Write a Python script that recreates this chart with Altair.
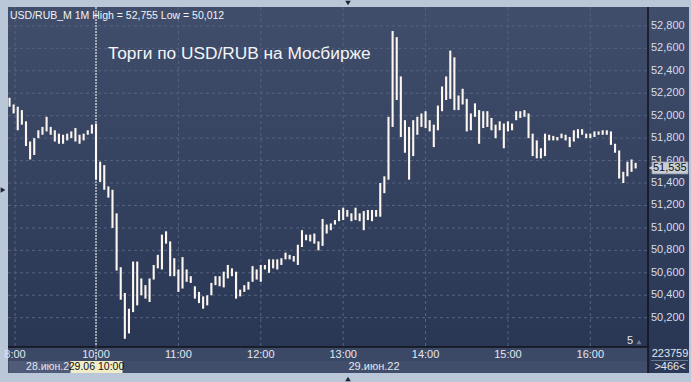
import altair as alt
import pandas as pd

# ---- data (minutes relative to 29.06 10:00, 3-minute bars) ----
t = list(range(-63, 394, 3))
hi = [52.16, 52.10, 52.08, 52.05, 51.95, 51.77, 51.80, 51.87, 51.90, 51.99,
      51.90, 51.87, 51.84, 51.83, 51.84, 51.86, 51.89, 51.83, 51.84, 51.87,
      51.92, 51.93, 51.59, 51.56, 51.37, 51.34, 51.13, 50.65, 50.42, 50.28,
      50.70, 50.70, 50.55, 50.49, 50.55, 50.67, 50.76, 50.94, 50.97, 50.88,
      50.73, 50.63, 50.74, 50.63, 50.57, 50.48, 50.43, 50.39, 50.40, 50.51,
      50.57, 50.57, 50.61, 50.67, 50.64, 50.61, 50.45, 50.49, 50.52, 50.66,
      50.63, 50.67, 50.67, 50.72, 50.72, 50.72, 50.73, 50.78, 50.76, 50.75,
      50.85, 50.98, 50.94, 50.94, 50.95, 50.88, 51.08, 51.03, 51.04, 51.07,
      51.16, 51.18, 51.16, 51.13, 51.18, 51.13, 51.15, 51.16, 51.16, 51.16,
      51.40, 51.46, 51.99, 52.755, 52.70, 52.35, 51.96, 51.90, 51.96, 51.99,
      52.02, 52.04, 51.96, 51.92, 52.09, 52.26, 52.35, 52.58, 52.52, 52.18,
      52.24, 52.15, 52.02, 52.11, 52.05, 52.04, 52.04, 51.98, 51.92, 51.95,
      51.93, 51.95, 51.93, 52.04, 52.04, 52.05, 52.02, 51.84, 51.78, 51.71,
      51.84, 51.83, 51.82, 51.81, 51.84, 51.83, 51.81, 51.87, 51.88, 51.88,
      51.84, 51.84, 51.86, 51.86, 51.87, 51.87, 51.86, 51.75, 51.69, 51.50,
      51.59, 51.61, 51.58]
lo = [52.08, 52.02, 51.87, 51.92, 51.73, 51.61, 51.65, 51.80, 51.83, 51.86,
      51.83, 51.77, 51.75, 51.75, 51.78, 51.80, 51.77, 51.75, 51.78, 51.83,
      51.84, 51.43, 51.41, 51.34, 51.27, 51.00, 50.62, 50.36, 50.012, 50.06,
      50.25, 50.31, 50.40, 50.37, 50.34, 50.54, 50.64, 50.63, 50.86, 50.57,
      50.57, 50.43, 50.46, 50.52, 50.51, 50.37, 50.33, 50.28, 50.31, 50.40,
      50.49, 50.48, 50.47, 50.55, 50.57, 50.37, 50.39, 50.43, 50.45, 50.52,
      50.54, 50.52, 50.63, 50.60, 50.64, 50.63, 50.67, 50.72, 50.72, 50.70,
      50.67, 50.83, 50.89, 50.88, 50.86, 50.80, 50.84, 50.95, 50.98, 51.03,
      51.06, 51.07, 51.10, 51.06, 51.07, 51.06, 50.98, 51.07, 51.06, 51.10,
      51.10, 51.31, 51.43, 51.90, 52.14, 51.81, 51.67, 51.43, 51.64, 51.83,
      51.90, 51.89, 51.86, 51.72, 51.87, 52.04, 52.14, 52.15, 52.05, 52.05,
      52.10, 51.86, 51.87, 51.99, 51.75, 51.89, 51.90, 51.87, 51.80, 51.87,
      51.71, 51.86, 51.87, 51.96, 51.98, 51.99, 51.80, 51.64, 51.62, 51.62,
      51.64, 51.78, 51.78, 51.78, 51.80, 51.78, 51.72, 51.77, 51.80, 51.83,
      51.80, 51.80, 51.81, 51.83, 51.83, 51.83, 51.74, 51.67, 51.44, 51.40,
      51.46, 51.50, 51.53]

y_ticks = [50.2, 50.4, 50.6, 50.8, 51.0, 51.2, 51.4, 51.6, 51.8, 52.0, 52.2, 52.4, 52.6, 52.8]
y_labels = ["50,200", "50,400", "50,600", "50,800", "51,000", "51,200", "51,400",
            "51,600", "51,800", "52,000", "52,200", "52,400", "52,600", "52,800"]
x_ticks = [-59, 0, 60, 120, 180, 240, 300, 360]
x_labels = ["8:00", "10:00", "11:00", "12:00", "13:00", "14:00", "15:00", "16:00"]
last_price = 51.535
last_label = "51,535"
title_text = "Торги по USD/RUB на Мосбирже"
info_text = "USD/RUB_M 1M High = 52,755 Low = 50,012"

W, H = 640, 340
XDOM = [-64.1, 402.0]
YDOM = [49.939, 52.9685]
FONT = "Liberation Sans"

xs = alt.Scale(domain=XDOM, nice=False, zero=False)
ys = alt.Scale(domain=YDOM, nice=False, zero=False)

bars_df = pd.DataFrame({"t": t, "hi": hi, "lo": lo})
yt_df = pd.DataFrame({"v": y_ticks, "label": y_labels})
xt_df = pd.DataFrame({"t": x_ticks, "label": x_labels})
one = pd.DataFrame({"a": [0]})

grad = alt.Gradient(gradient="linear",
                    stops=[alt.GradientStop(color="#414e6b", offset=0),
                           alt.GradientStop(color="#2a3754", offset=1)],
                    x1=0, x2=0, y1=0, y2=1)

bg = alt.Chart(one).mark_rect(color=grad).encode(
    x=alt.value(0), x2=alt.value(W + 41), y=alt.value(0), y2=alt.value(H))

strip = alt.Chart(one).mark_rect(color="#3c4966").encode(
    x=alt.value(0), x2=alt.value(W), y=alt.value(H), y2=alt.value(H + 26))
strip2 = alt.Chart(one).mark_rect(color="#414e6b").encode(
    x=alt.value(0), x2=alt.value(W), y=alt.value(H + 14), y2=alt.value(H + 26))
strip_left = alt.Chart(one).mark_rect(color="#4f5b78").encode(
    x=alt.value(1), x2=alt.value(88), y=alt.value(H + 14), y2=alt.value(H + 26))
rpanel = alt.Chart(one).mark_rect(color="#2c3956").encode(
    x=alt.value(W), x2=alt.value(W + 41), y=alt.value(H), y2=alt.value(H + 26))

hgrid = alt.Chart(yt_df).mark_rule(color="#56637f", strokeDash=[3, 3], strokeWidth=1).encode(
    y=alt.Y("v:Q", scale=ys, axis=None), x=alt.value(0), x2=alt.value(W))
vgrid = alt.Chart(xt_df).mark_rule(color="#56637f", strokeDash=[3, 3], strokeWidth=1).encode(
    x=alt.X("t:Q", scale=xs, axis=None), y=alt.value(0), y2=alt.value(H))

bars = alt.Chart(bars_df).mark_rule(color="#fdf7f0", strokeWidth=2.1).encode(
    x=alt.X("t:Q", scale=xs, axis=None),
    y=alt.Y("lo:Q", scale=ys, axis=None), y2="hi:Q")

cross = alt.Chart(pd.DataFrame({"t": [0]})).mark_rule(
    color="#ffffff", strokeDash=[2, 1], strokeWidth=1).encode(
    x=alt.X("t:Q", scale=xs, axis=None), y=alt.value(0), y2=alt.value(H + 14))

blines = alt.Chart(one).mark_rule(color="#10131a", strokeWidth=1.5).encode(
    x=alt.value(0), x2=alt.value(W), y=alt.value(H))
rline = alt.Chart(one).mark_rule(color="#10131a", strokeWidth=1.5).encode(
    x=alt.value(W), y=alt.value(0), y2=alt.value(H + 26))
sep = alt.Chart(one).mark_rule(color="#6a7690", strokeWidth=1).encode(
    x=alt.value(W + 3), x2=alt.value(W + 40), y=alt.value(H + 13.5))

ylab = alt.Chart(yt_df).mark_text(align="left", baseline="middle", font=FONT,
                                   fontSize=11, color="#d7deeb").encode(
    y=alt.Y("v:Q", scale=ys, axis=None), x=alt.value(W + 3), text="label:N")
xlab = alt.Chart(xt_df).mark_text(align="center", baseline="middle", font=FONT,
                                   fontSize=11, color="#e2e7f0").encode(
    x=alt.X("t:Q", scale=xs, axis=None), y=alt.value(H + 8), text="label:N")

# price marker
py = (YDOM[1] - last_price) / (YDOM[1] - YDOM[0]) * H
pbox = alt.Chart(one).mark_rect(color="#c9cdd5", stroke="#8e96a6", strokeWidth=0.8).encode(
    x=alt.value(W + 4), x2=alt.value(W + 40), y=alt.value(py - 6), y2=alt.value(py + 6))
parrow = alt.Chart(one).mark_point(shape="triangle-left", filled=True, color="#c9cdd5",
                                    size=30, opacity=1).encode(
    x=alt.value(W + 3), y=alt.value(py))
ptext = alt.Chart(pd.DataFrame({"v": [last_price], "label": [last_label]})).mark_text(
    align="left", baseline="middle", font=FONT, fontSize=11, color="#111111").encode(
    y=alt.Y("v:Q", scale=ys, axis=None), x=alt.value(W + 5), text="label:N")

def txt(s, x, y, size=11, color="#e2e7f0", align="left", baseline="middle", weight="normal"):
    return alt.Chart(one).mark_text(text=s, align=align, baseline=baseline, font=FONT,
                                    fontSize=size, color=color, fontWeight=weight).encode(
        x=alt.value(x), y=alt.value(y))

title = txt(title_text, 100, 52, size=17.3, color="#f3f5f9", baseline="alphabetic")
info = txt(info_text, 2, 11.5, size=10.5, color="#f0f3f8", baseline="alphabetic")
d1 = txt("28.июн.2", 61, H + 20, size=10.5, color="#e2e7f0", align="right")
dbox = alt.Chart(one).mark_rect(color="#f1ecc8").encode(
    x=alt.value(62.5), x2=alt.value(114.5), y=alt.value(H + 14), y2=alt.value(H + 26))
d2 = txt("29.06 10:00", 88.5, H + 20, size=10.5, color="#111111", align="center")
d3 = txt("29.июн.22", 366, H + 20, size=11, color="#e2e7f0", align="center")
five = txt("5", 622, H - 6, size=11, color="#e2e7f0", align="center")
fivetri = alt.Chart(one).mark_point(shape="triangle-up", filled=True, color="#6f7b93",
                                     size=25, opacity=1).encode(
    x=alt.value(631), y=alt.value(H - 5))
r1 = txt("223759", W + 22, H + 7, size=11, color="#e2e7f0", align="center")
r2 = txt(">466<", W + 22, H + 20, size=11, color="#e2e7f0", align="center")

tri_top = alt.Chart(one).mark_point(shape="triangle-down", filled=True, color="#1b2233",
                                     size=30, opacity=1).encode(x=alt.value(340), y=alt.value(-4))
tri_bot = alt.Chart(one).mark_point(shape="triangle-up", filled=True, color="#1b2233",
                                     size=30, opacity=1).encode(x=alt.value(340), y=alt.value(H + 32))
tri_left = alt.Chart(one).mark_point(shape="triangle-right", filled=True, color="#1b2233",
                                      size=30, opacity=1).encode(x=alt.value(-5), y=alt.value(183))

chart = alt.layer(
    bg, strip, strip2, strip_left, rpanel, hgrid, vgrid, bars, cross, blines, rline, sep,
    ylab, xlab, pbox, parrow, ptext, title, info, dbox, d1, d2, d3, five, fivetri, r1, r2,
    tri_top, tri_bot, tri_left
).properties(
    width=W, height=H,
    autosize=alt.AutoSizeParams(type="none"),
    padding={"left": 8, "top": 7, "right": 43, "bottom": 35},
    background="#b9c7d9",
).configure_view(stroke=None)

chart.save("out.html", embed_options={"renderer": "svg", "actions": False})
